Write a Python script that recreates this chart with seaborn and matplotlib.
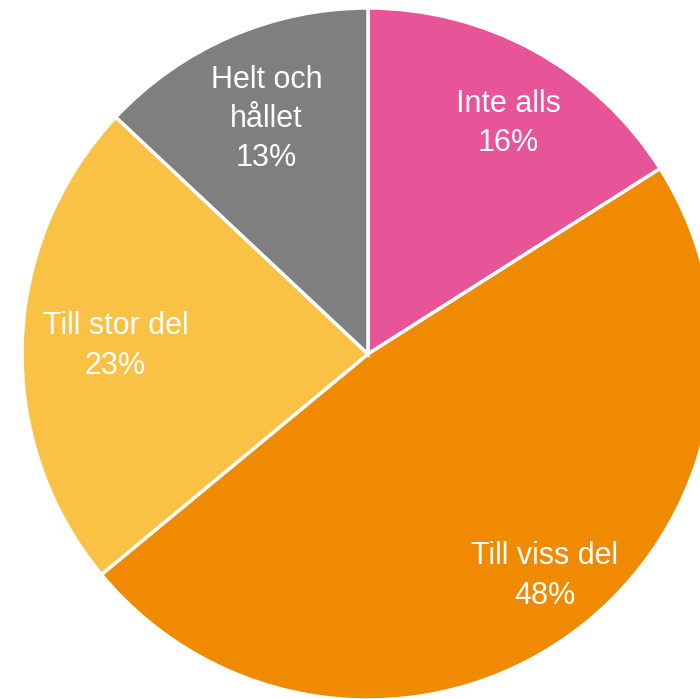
import matplotlib
matplotlib.use('Agg')
import numpy as np
import matplotlib.pyplot as plt
import seaborn as sns

labels = ["Inte alls", "Till viss del", "Till stor del", "Helt och\nhållet"]
shares = [16, 48, 23, 13]
colors = ["#E75497", "#F08A00", "#F9C244", "#7F7F7F"]
# label placement (Excel best fit): radius fraction and angle nudge in degrees
label_dist = [0.78, 0.82, 0.73, 0.74]
label_nudge = [-2.5, 2.5, 0, 0]

sns.set_theme(style="white")
plt.rcParams['font.family'] = ['Liberation Sans', 'DejaVu Sans']

fig = plt.figure(figsize=(7.0, 6.99), dpi=100)
# pie centre at ~(368, 354) px, radius ~346 px
ax = fig.add_axes([22 / 700, -1 / 699, 692 / 700, 692 / 699])
wedges, _ = ax.pie(shares, colors=colors, startangle=90, counterclock=False,
                   radius=1.0, wedgeprops=dict(edgecolor="white", linewidth=2.5))

for w, lab, val, d, nd in zip(wedges, labels, shares, label_dist, label_nudge):
    mid = np.deg2rad((w.theta1 + w.theta2) / 2 + nd)
    ax.text(d * np.cos(mid), d * np.sin(mid), f"{lab}\n{val}%",
            ha="center", va="center", color="white", fontsize=22,
            linespacing=1.4)

ax.set_xlim(-1, 1)
ax.set_ylim(-1, 1)
ax.set_aspect("equal")
ax.axis("off")

fig.savefig("out.png", dpi=100)
